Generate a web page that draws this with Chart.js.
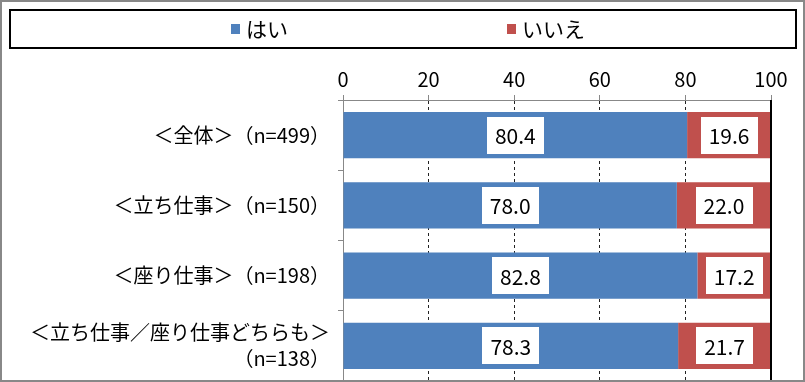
<!DOCTYPE html>
<html><head><meta charset="utf-8">
<script src="https://cdn.jsdelivr.net/npm/chart.js@4/dist/chart.umd.min.js"></script>
<style>html,body{margin:0;padding:0;background:#fff;}canvas{display:block}</style>
</head><body>
<canvas id="c" width="805" height="382"></canvas>
<script>
const categories = ["＜全体＞（n=499）", "＜立ち仕事＞（n=150）", "＜座り仕事＞（n=198）", ["＜立ち仕事／座り仕事どちらも＞", "（n=138）"]];
const seriesNames = ["はい", "いいえ"];
const yesValues = [80.4, 78.0, 82.8, 78.3];
const noValues = [19.6, 22.0, 17.2, 21.7];
const xTickValues = [0, 20, 40, 60, 80, 100];
const seriesColors = ["#4F81BD", "#C0504D"];

const JP = "'Noto Sans CJK JP', 'Noto Sans', sans-serif";

const framePlugin = {
  id: 'frame',
  afterDatasetsDraw(chart) {
    const ctx = chart.ctx, a = chart.chartArea, x = chart.scales.x;
    ctx.save();
    ctx.strokeStyle = '#000'; ctx.lineWidth = 2;
    const xm = Math.round(x.getPixelForValue(100));
    ctx.beginPath(); ctx.moveTo(xm, a.top); ctx.lineTo(xm, a.bottom); ctx.stroke();
    ctx.font = "21px " + JP;
    ctx.textAlign = 'center'; ctx.textBaseline = 'middle';
    chart.data.datasets.forEach((ds, di) => {
      chart.getDatasetMeta(di).data.forEach((el, i) => {
        const txt = ds.data[i].toFixed(1);
        const cx = (el.x + el.base) / 2, cy = el.y;
        const w = ctx.measureText(txt).width + 16, h = 37;
        ctx.fillStyle = '#fff';
        ctx.fillRect(Math.round(cx - w / 2), Math.round(cy - h / 2), Math.round(w), h);
        ctx.fillStyle = '#000';
        ctx.fillText(txt, cx, cy + 1);
      });
    });
    ctx.restore();
  },
  afterDraw(chart) {
    const ctx = chart.ctx;
    ctx.save();
    ctx.strokeStyle = '#888'; ctx.lineWidth = 2;
    ctx.strokeRect(1, 1, 803, 380);
    ctx.strokeStyle = '#000'; ctx.lineWidth = 2;
    ctx.strokeRect(10, 10, 786, 38);
    const itemX = [231, 507];
    ctx.font = "21px " + JP; ctx.textBaseline = 'middle'; ctx.textAlign = 'left';
    chart.data.datasets.forEach((ds, i) => {
      ctx.fillStyle = ds.backgroundColor;
      ctx.fillRect(itemX[i], 24, 9, 10);
      ctx.fillStyle = '#000';
      ctx.fillText(ds.label, itemX[i] + 15, 29);
    });
    ctx.restore();
  }
};

new Chart(document.getElementById('c'), {
  type: 'bar',
  data: {
    labels: categories,
    datasets: [
      { label: seriesNames[0], data: yesValues, backgroundColor: seriesColors[0] },
      { label: seriesNames[1], data: noValues, backgroundColor: seriesColors[1] }
    ]
  },
  options: {
    indexAxis: 'y',
    responsive: false,
    animation: false,
    devicePixelRatio: 1,
    layout: { padding: { top: 0, left: 0, right: 34, bottom: 1 } },
    datasets: { bar: { barPercentage: 0.66, categoryPercentage: 1, borderWidth: 0 } },
    plugins: { legend: { display: false }, tooltip: { enabled: false } },
    scales: {
      x: {
        position: 'top', stacked: true, min: 0, max: 100,
        afterBuildTicks: s => { s.ticks = xTickValues.map(v => ({ value: v })); },
        afterFit: s => { s.height = 100; s.paddingLeft = 0; s.paddingRight = 0; },
        ticks: { color: '#000', font: { family: JP, size: 20 }, padding: 4, maxRotation: 0 },
        grid: {
          color: c => (c.tick && (c.tick.value === 0 || c.tick.value === 100)) ? 'rgba(0,0,0,0)' : '#222',
          lineWidth: 1, tickColor: '#888', tickLength: 5, tickBorderDash: [], tickWidth: 1
        },
        border: { color: '#888', width: 1, dash: [3, 3] }
      },
      y: {
        stacked: true,
        afterFit: s => { s.width = 343; s.paddingTop = 0; s.paddingBottom = 0; },
        ticks: { color: '#000', font: { family: JP, size: 20, lineHeight: 1.3 }, padding: 8 },
        grid: { drawOnChartArea: false, offset: true, tickLength: 5, tickColor: '#888', color: '#888' },
        border: { color: '#888', width: 1 }
      }
    }
  },
  plugins: [framePlugin]
});
</script>
</body></html>
